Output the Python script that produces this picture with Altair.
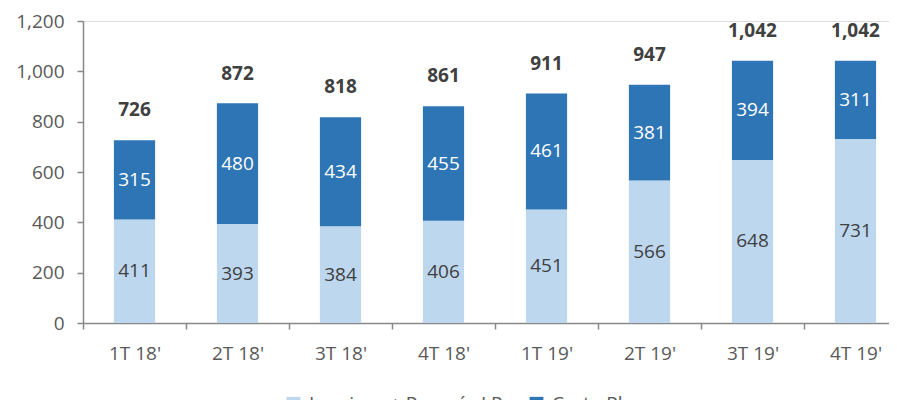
import altair as alt
import pandas as pd

categories = ["1T 18'", "2T 18'", "3T 18'", "4T 18'", "1T 19'", "2T 19'", "3T 19'", "4T 19'"]
leasing = [411, 393, 384, 406, 451, 566, 648, 731]
corto = [315, 480, 434, 455, 461, 381, 394, 311]
totals = [726, 872, 818, 861, 911, 947, 1042, 1042]
series_names = ["Leasings + Pagarés LP", "Corto Plazo"]
series_colors = ["#BDD7EE", "#2E75B6"]

rows = []
for i, c in enumerate(categories):
    rows.append({"cat": c, "serie": series_names[0], "value": leasing[i], "ord": 0})
    rows.append({"cat": c, "serie": series_names[1], "value": corto[i], "ord": 1})
df = pd.DataFrame(rows)
tot = pd.DataFrame({"cat": categories, "total": totals})

FONT = "Open Sans"
FS = 19
AXC = "#898989"
TXT = "#595959"

xscale = alt.Scale(paddingInner=0, paddingOuter=0, range=[0, 824])
xenc = alt.X(
    "cat:N", sort=categories, title=None, scale=xscale,
    axis=alt.Axis(labelAngle=0, tickBand="extent", labelFont=FONT, labelFontSize=FS,
                  labelColor=TXT, domainColor=AXC, tickColor=AXC, tickSize=6,
                  labelPadding=15, grid=False, domainWidth=1.5, tickWidth=1.5),
)
yscale = alt.Scale(domain=[0, 1200], nice=False)
yaxis = alt.Axis(values=list(range(0, 1201, 200)), format=",.0f", title=None, labelFont=FONT,
                 labelFontSize=FS, labelColor=TXT, domainColor=AXC, tickColor=AXC,
                 tickSize=6, labelPadding=13, grid=False, domainWidth=1.5, tickWidth=1.5)

bars = alt.Chart(df).mark_bar(width=alt.RelativeBandSize(0.4)).encode(
    x=xenc,
    y=alt.Y("value:Q", stack="zero", scale=yscale, axis=yaxis),
    color=alt.Color("serie:N", scale=alt.Scale(domain=series_names, range=series_colors),
                    legend=alt.Legend(title=None, orient="none", direction="horizontal",
                                      legendX=201, legendY=373, symbolType="square",
                                      symbolSize=190, symbolStrokeWidth=0, labelLimit=400,
                                      labelFont=FONT, labelFontSize=FS, labelColor=TXT,
                                      columnPadding=24, labelOffset=6)),
    order=alt.Order("ord:Q", sort="ascending"),
)

seg_labels = alt.Chart(df).transform_stack(
    stack="value", groupby=["cat"], as_=["v0", "v1"], sort=[alt.SortField("ord", "ascending")]
).transform_calculate(mid="(datum.v0 + datum.v1) / 2").mark_text(
    font=FONT, fontSize=FS, baseline="middle"
).encode(
    x=alt.X("cat:N", sort=categories, scale=xscale),
    y=alt.Y("mid:Q", scale=yscale),
    text=alt.Text("value:Q"),
    color=alt.condition(alt.datum.ord == 1, alt.value("#FFFFFF"), alt.value("#404040")),
)

tot_labels = alt.Chart(tot).mark_text(
    font=FONT, fontSize=FS, fontWeight="bold", baseline="middle", dy=-30, color="#404040"
).encode(
    x=alt.X("cat:N", sort=categories, scale=xscale),
    y=alt.Y("total:Q", scale=yscale),
    text=alt.Text("total:Q", format=",.0f"),
)

chart = alt.layer(bars, seg_labels, tot_labels).properties(
    width=806, height=302,
    autosize=alt.AutoSizeParams(type="none"),
    padding={"left": 75, "top": 13, "right": 0, "bottom": 77},
).configure_view(stroke="transparent", strokeWidth=0).configure(background="white")

chart.save("out.html", embed_options={"renderer": "svg", "actions": False})
